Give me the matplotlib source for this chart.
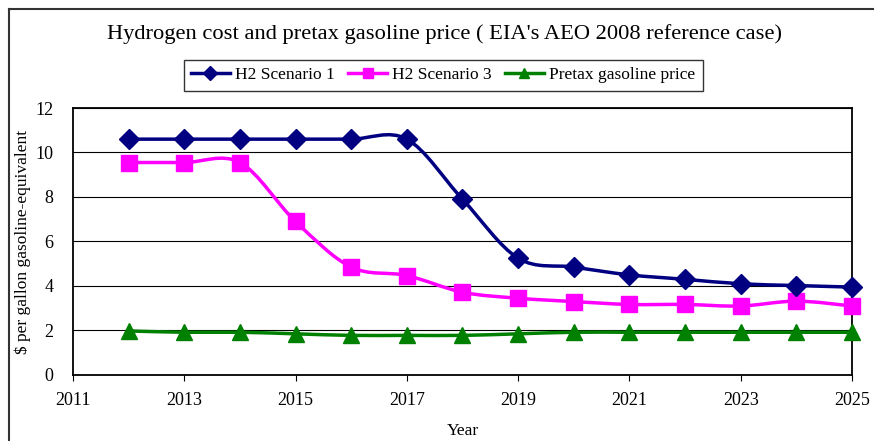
import numpy as np
import matplotlib
matplotlib.use("Agg")
from matplotlib import pyplot as plt
from matplotlib.path import Path
from matplotlib.patches import PathPatch
from matplotlib.lines import Line2D

plt.rcParams['font.family'] = ['Liberation Serif', 'DejaVu Serif']

years = [2012, 2013, 2014, 2015, 2016, 2017, 2018, 2019, 2020, 2021, 2022, 2023, 2024, 2025]
scenario1 = [10.6, 10.6, 10.6, 10.6, 10.6, 10.6, 7.9, 5.25, 4.85, 4.5, 4.3, 4.1, 4.02, 3.95]
scenario3 = [9.55, 9.55, 9.55, 6.9, 4.85, 4.47, 3.72, 3.45, 3.3, 3.17, 3.17, 3.1, 3.32, 3.1]
gasoline = [1.98, 1.92, 1.92, 1.85, 1.78, 1.78, 1.78, 1.85, 1.92, 1.92, 1.92, 1.92, 1.92, 1.92]

names = ["H2 Scenario 1", "H2 Scenario 3", "Pretax gasoline price"]
colors = ["#000080", "#FF00FF", "#008000"]
markers = ["D", "s", "^"]
msizes = [10.5, 11, 11.5]

xticks = [2011, 2013, 2015, 2017, 2019, 2021, 2023, 2025]
yticks = [0, 2, 4, 6, 8, 10, 12]


def smooth_path(x, y):
    # Excel-like smoothed line: Catmull-Rom segments as cubic Beziers
    pts = np.column_stack([x, y]).astype(float)
    n = len(pts)
    verts = [pts[0]]
    codes = [Path.MOVETO]
    for i in range(n - 1):
        p0 = pts[i - 1] if i > 0 else pts[i]
        p1 = pts[i]
        p2 = pts[i + 1]
        p3 = pts[i + 2] if i + 2 < n else pts[i + 1]
        c1 = p1 + (p2 - p0) / 6.0
        c2 = p2 - (p3 - p1) / 6.0
        verts += [c1, c2, p2]
        codes += [Path.CURVE4] * 3
    return Path(verts, codes)


fig = plt.figure(figsize=(8.74, 4.41), dpi=100)
ax = fig.add_axes([0.0835, 0.1497, 0.8913, 0.6054])

series = [scenario1, scenario3, gasoline]
for k in [2, 1, 0]:
    ax.add_patch(PathPatch(smooth_path(years, series[k]), fill=False,
                           edgecolor=colors[k], lw=2.5, zorder=3))
    ax.plot(years, series[k], ls='none', marker=markers[k], ms=msizes[k],
            color=colors[k], zorder=4, clip_on=False)

ax.set_xlim(2011, 2025)
ax.set_ylim(0, 12)
ax.set_xticks(xticks)
ax.set_yticks(yticks)
ax.tick_params(axis='x', length=4, labelsize=13, pad=8)
ax.tick_params(axis='y', length=0, labelsize=13, pad=14)
ax.yaxis.grid(True, color='black', lw=0.8)
ax.set_axisbelow(True)
for s in ax.spines.values():
    s.set_linewidth(1.3)

ax.set_ylabel("$ per gallon gasoline-equivalent", fontsize=12.5, labelpad=3)
ax.set_xlabel("Year", fontsize=12.5, labelpad=10)

fig.text(0.509, 0.922, "Hydrogen cost and pretax gasoline price ( EIA's AEO 2008 reference case)",
         ha='center', va='center', fontsize=16.2)

handles = [Line2D([], [], color=colors[k], lw=2.5, marker=markers[k], ms=7.5) for k in range(3)]
leg = fig.legend(handles, names, loc='center', bbox_to_anchor=(0.507, 0.829),
                 ncol=3, fontsize=12.5, frameon=True, fancybox=False,
                 edgecolor='black', handlelength=2.2, handletextpad=0.3,
                 columnspacing=0.8, borderpad=0.45)
leg.get_frame().set_linewidth(1.0)

# outer chart frame (left and top edges)
fig.add_artist(Line2D([0.0103, 0.0103], [0.0, 0.98], color='#333333', lw=1.5,
                      transform=fig.transFigure))
fig.add_artist(Line2D([0.0103, 1.0], [0.98, 0.98], color='#333333', lw=1.5,
                      transform=fig.transFigure))

fig.savefig("out.png", dpi=100)
